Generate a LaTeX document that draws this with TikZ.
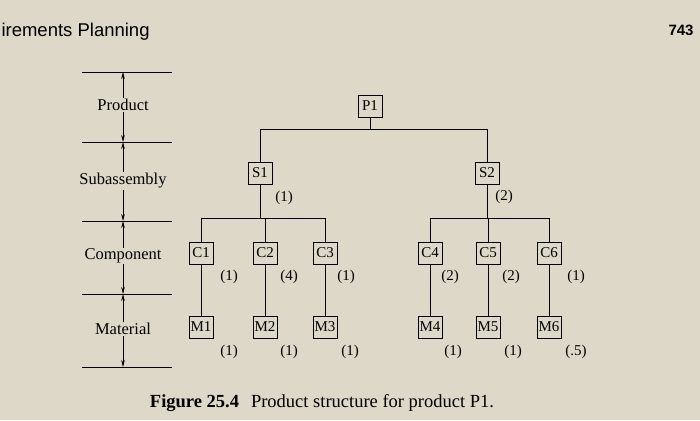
\documentclass[tikz,border=0pt]{standalone}
\usepackage{fontspec}
\setmainfont{Liberation Serif}
\newfontfamily\hdr{Liberation Sans}
\usetikzlibrary{arrows.meta}
\begin{document}
\begin{tikzpicture}[x=1pt,y=-1pt,
  bx/.style={draw,line width=0.8pt,minimum width=24pt,minimum height=22pt,inner sep=1pt,font=\fontsize{15}{15}\selectfont},
  qty/.style={font=\fontsize{15}{15}\selectfont},
  lvl/.style={font=\fontsize{16.5}{16.5}\selectfont,fill=bg,inner sep=1pt},
  ln/.style={line width=1pt},
  ax/.style={line width=0.6pt,-{Stealth[length=7pt,width=3.5pt]}}]
\definecolor{bg}{RGB}{222,216,200}
\fill[bg] (0,0) rectangle (700,420);
\useasboundingbox (0,0) rectangle (700,420);
\node[anchor=west,font=\hdr\fontsize{18.5}{18.5}\selectfont] (hd) at (-2,32) {irements Planning};
\node[font=\hdr\bfseries\fontsize{15}{15}\selectfont] (pg) at (681,30) {743};
% axis
\foreach \y/\n in {72/a,142/b,221/c,294/d,367/e}{\draw[line width=0.6pt] (82,\y) -- (172,\y); \coordinate (t\n) at (123,\y);}
\node[lvl] (lp) at (123,105) {Product};
\node[lvl] (ls) at (123,181) {Subassembly};
\node[lvl] (lc) at (123,256) {Component};
\node[lvl] (lm) at (123,329) {Material};
\draw[ax] (lp) -- (ta); \draw[ax] (lp) -- (tb);
\draw[ax] (ls) -- (tb); \draw[ax] (ls) -- (tc);
\draw[ax] (lc) -- (tc); \draw[ax] (lc) -- (td);
\draw[ax] (lm) -- (td); \draw[ax] (lm) -- (te);
% nodes
\node[bx] (P1) at (370,106) {P1};
\node[bx] (S1) at (260,173) {S1};
\node[bx] (S2) at (487,173) {S2};
\foreach \n/\x in {C1/201,C2/265,C3/325,C4/430,C5/488,C6/549}{\node[bx] (\n) at (\x,253) {\n};}
\foreach \n/\x in {M1/201,M2/265,M3/325,M4/430,M5/488,M6/549}{\node[bx] (\n) at (\x,327) {\n};}
% tree
\draw[ln] (P1.south) -- ++(0,12) coordinate (p) -| (S1.north);
\draw[ln] (p) -| (S2.north);
\draw[ln] (S1.south) -- (260,218) coordinate (s1) -| (C1.north);
\draw[ln] (s1) -| (C3.north); \draw[ln] (C2.north|-s1) -- (C2.north);
\draw[ln] (S2.south) -- (487,218) coordinate (s2) -| (C4.north);
\draw[ln] (s2) -| (C6.north); \draw[ln] (C5.north|-s2) -- (C5.north);
\foreach \i in {1,...,6}{\draw[ln] (C\i.south) -- (M\i.north);}
% quantities
\node[qty] (q1) at (284,198) {(1)};
\node[qty] (q2) at (504,197) {(2)};
\foreach \x/\t in {229/(1),289/(4),346/(1),450/(2),511/(2),576/(1)}{\node[qty] at (\x,277) {\t};}
\foreach \x/\t in {229/(1),289/(1),350/(1),453/(1),513/(1),576/(.5)}{\node[qty] at (\x,352) {\t};}
\node[font=\fontsize{18.5}{18.5}\selectfont] (cap) at (322,403) {\textbf{Figure 25.4}\hspace{12pt}Product structure for product P1.};
\end{tikzpicture}
\end{document}
